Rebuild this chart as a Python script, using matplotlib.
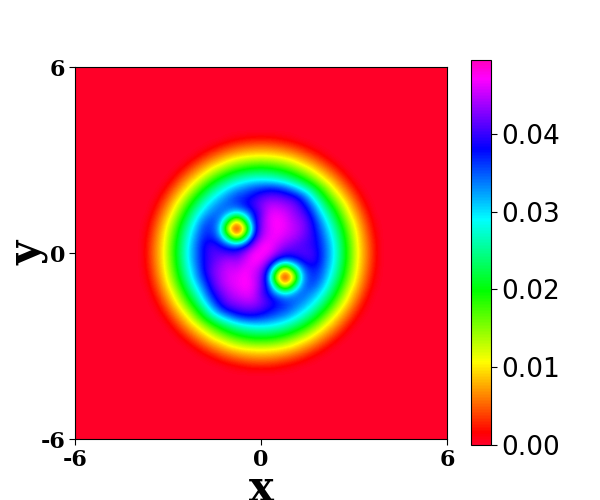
import numpy as np
import matplotlib
matplotlib.use("Agg")
from matplotlib import pyplot as plt

# grid points (same for x and y), field is 0 further out
x_pts = [-3.652,-3.391,-3.130,-2.870,-2.609,-2.348,-2.087,-1.826,-1.565,-1.304,-1.043,-0.783,-0.522,-0.261,0,
         0.261,0.522,0.783,1.043,1.304,1.565,1.826,2.087,2.348,2.609,2.870,3.130,3.391,3.652]

# density, in units of 1e-3, first row is y=3.652
density_rows = [
[0,0,0,0,0,0,0,0,0,.1,.7,1.2,1.8,2.2,2.3,2.2,1.8,1.2,.7,.1,0,0,0,0,0,0,0,0,0],
[0,0,0,0,0,0,0,.3,1.2,2.6,3.9,5,5.8,6.3,6.5,6.3,5.8,5,3.9,2.6,1.2,.3,0,0,0,0,0,0,0],
[0,0,0,0,0,0,.9,2.7,4.7,6.5,8,9.1,9.9,10.3,10.5,10.3,9.9,9.1,8,6.5,4.7,2.7,.9,0,0,0,0,0,0],
[0,0,0,0,.1,1.5,3.9,6.3,8.5,10.2,12.5,14.4,15.8,16.7,17,16.7,15.8,14.4,12.5,10.2,8.5,6.3,3.9,1.5,.1,0,0,0,0],
[0,0,0,.1,1.8,4.5,7.3,9.7,12.8,15.8,18.5,20.6,22,22.9,23.2,22.9,22,20.6,18.5,15.8,12.8,9.7,7.3,4.5,1.8,.1,0,0,0],
[0,0,0,1.5,4.5,7.7,10.3,14.4,18.2,21.5,24,26.4,28,29,29.4,29,28,26.4,24,21.5,18.2,14.4,10.3,7.7,4.5,1.5,0,0,0],
[0,0,.9,3.9,7.3,10.3,15,19.4,23.2,26.7,29.7,32,33.5,35,36,37,36.5,35,32,28.5,24.5,20,15.5,10.3,7.3,3.9,.9,0,0],
[0,.3,2.7,6.3,9.7,14.4,19.4,23.7,28,31,33.5,35.7,36.8,38.5,40.5,41.5,41.5,40.5,39,36,31,24.5,19.4,14.4,9.7,6.3,2.7,.3,0],
[0,1.2,4.7,8.5,12.8,18.2,23.2,28,31.3,33.5,35,36,38,40,42.5,44.5,44.5,43.5,42.5,39.5,35,29.5,23.2,18.2,12.8,8.5,4.7,1.2,0],
[.1,2.6,6.5,10.2,15.8,21.5,26.7,31,33.5,35,32.5,30,32.5,37.5,41.5,46,46.5,45.5,43.5,41.5,38,32.5,26.7,21.5,15.8,10.2,6.5,2.6,.1],
[.7,3.9,8,12.5,18.5,24,29.7,34,36,32.5,21,8,21,35.5,42.5,46.5,47.5,46.5,44.5,43,40,35,29.7,24,18.5,12.5,8,3.9,.7],
[1.2,5,9.1,14.4,20.6,26.4,31.6,36,36,30,8,0,8,33,43,46,47.5,46.5,45,43.5,40.5,36.5,31.6,26.4,20.6,14.4,9.1,5,1.2],
[1.8,5.8,9.9,15.8,22,28,33,37,37,32.5,21,8,21,37,44,46.5,47,45.5,44.5,42.5,40.5,37.5,33,28,22,15.8,9.9,5.8,1.8],
[2.2,6.3,10.3,16.7,22.9,29,34,38.5,40,38,35,33.5,36.5,43,47,47.5,45.5,43.5,42,41,40,38,34,29,22.9,16.7,10.3,6.3,2.2],
[2.3,6.5,10.5,17,23.2,29.4,34.2,38.6,41,41,40.5,40.5,43.5,47,47.5,47,43.5,40.5,40.5,41,41,38.6,34.2,29.4,23.2,17,10.5,6.5,2.3],
[2.2,6.3,10.3,16.7,22.9,29,34,38.5,41,43,44.5,43.5,45.5,47.5,47,43,36.5,33.5,35,38,40,38.5,34,29,22.9,16.7,10.3,6.3,2.2],
[1.8,5.8,9.9,15.8,22,28,33,38.5,42,44,45.5,45.5,47,46.5,44,37,21,8,21,32.5,37,37,33,28,22,15.8,9.9,5.8,1.8],
[1.2,5,9.1,14.4,20.6,26.4,32.2,37,41.5,44,46,46.5,47.5,46,43,33,8,0,8,30,36,36,31.6,26.4,20.6,14.4,9.1,5,1.2],
[.7,3.9,8,12.5,18.5,24,29.7,35,40,43.5,45.5,46.5,47.5,46.5,42.5,35.5,21,8,21,32.5,36,34,29.7,24,18.5,12.5,8,3.9,.7],
[.1,2.6,6.5,10.2,15.8,21.5,26.7,32.5,38,41.5,44,45.5,46.5,46,41.5,37.5,32.5,30,32.5,35,33.5,31,26.7,21.5,15.8,10.2,6.5,2.6,.1],
[0,1.2,4.7,8.5,12.8,18.2,23.2,29.5,35,39.5,42.5,43.5,44.5,44.5,42.5,40,38,36,35,33.5,31.3,28,23.2,18.2,12.8,8.5,4.7,1.2,0],
[0,.3,2.7,6.3,9.7,14.4,19.4,24.5,31,36,39,40.5,41.5,41.5,40.5,38.5,36.8,35.7,33.5,31,28,23.7,19.4,14.4,9.7,6.3,2.7,.3,0],
[0,0,.9,3.9,7.3,10.3,15.5,20,24.5,28.5,32,35,36.5,37,36,35,33.5,32,29.7,26.7,23.2,19.4,15,10.3,7.3,3.9,.9,0,0],
[0,0,0,1.5,4.5,7.7,10.3,14.4,18.2,21.5,24,26.4,28,29,29.4,29,28,26.4,24,21.5,18.2,14.4,10.3,7.7,4.5,1.5,0,0,0],
[0,0,0,.1,1.8,4.5,7.3,9.7,12.8,15.8,18.5,20.6,22,22.9,23.2,22.9,22,20.6,18.5,15.8,12.8,9.7,7.3,4.5,1.8,.1,0,0,0],
[0,0,0,0,.1,1.5,3.9,6.3,8.5,10.2,12.5,14.4,15.8,16.7,17,16.7,15.8,14.4,12.5,10.2,8.5,6.3,3.9,1.5,.1,0,0,0,0],
[0,0,0,0,0,0,.9,2.7,4.7,6.5,8,9.1,9.9,10.3,10.5,10.3,9.9,9.1,8,6.5,4.7,2.7,.9,0,0,0,0,0,0],
[0,0,0,0,0,0,0,.3,1.2,2.6,3.9,5,5.8,6.3,6.5,6.3,5.8,5,3.9,2.6,1.2,.3,0,0,0,0,0,0,0],
[0,0,0,0,0,0,0,0,0,.1,.7,1.2,1.8,2.2,2.3,2.2,1.8,1.2,.7,.1,0,0,0,0,0,0,0,0,0],
]

axis_ticks = [-6, 0, 6]
axis_ticklabels = ["-6", "0", "6"]
cbar_ticks = [0.0, 0.01, 0.02, 0.03, 0.04]
z_max = 0.0495

# zero border out past the axis limits
border = 9
z = np.pad(np.array(density_rows) / 1000.0, border)
step = x_pts[1] - x_pts[0]
edge = x_pts[-1] + (border + 0.5) * step

fig = plt.figure(figsize=(6, 5), dpi=100)
ax = fig.add_axes([75 / 600, 61 / 500, 372 / 600, 372 / 500])
img = ax.imshow(z, extent=[-edge, edge, -edge, edge], origin="upper", aspect="auto", cmap="gist_rainbow",
                vmin=0, vmax=z_max, interpolation="bicubic", interpolation_stage="data")
ax.set_xlim(-6, 6)
ax.set_ylim(-6, 6)
ax.set_xticks(axis_ticks)
ax.set_yticks(axis_ticks)
ax.set_xticklabels(axis_ticklabels, family="DejaVu Serif", weight="bold", fontsize=16)
ax.set_yticklabels(axis_ticklabels, family="DejaVu Serif", weight="bold", fontsize=16)
ax.tick_params(pad=3, length=4)
ax.set_xlabel("x", family="DejaVu Serif", weight="bold", fontsize=30, labelpad=-2)
ax.set_ylabel("y", family="DejaVu Serif", weight="bold", fontsize=30, labelpad=-6)

cax = fig.add_axes([470.5 / 600, 55 / 500, 20.5 / 600, 385 / 500])
cbar = fig.colorbar(img, cax=cax, ticks=cbar_ticks, format="%.2f")
cbar.ax.tick_params(labelsize=19, length=4)

fig.savefig("out.png", dpi=100)
